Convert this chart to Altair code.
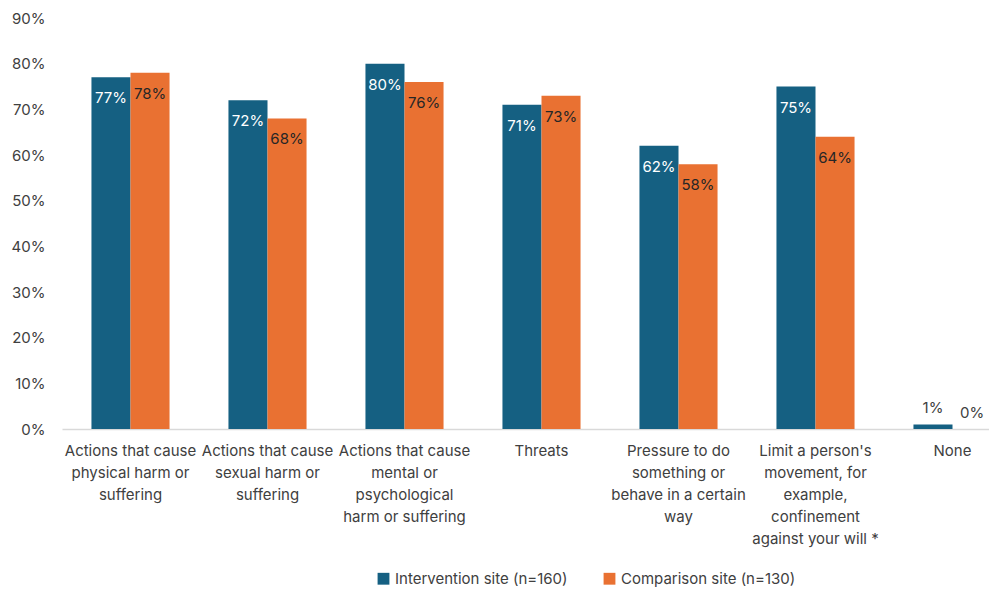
import altair as alt
import pandas as pd

categories = [
    "Actions that cause\nphysical harm or\nsuffering",
    "Actions that cause\nsexual harm or\nsuffering",
    "Actions that cause\nmental or\npsychological\nharm or suffering",
    "Threats",
    "Pressure to do\nsomething or\nbehave in a certain\nway",
    "Limit a person's\nmovement, for\nexample,\nconfinement\nagainst your will *",
    "None",
]
series = ["Intervention site (n=160)", "Comparison site (n=130)"]
intervention = [0.77, 0.72, 0.80, 0.71, 0.62, 0.75, 0.01]
comparison = [0.78, 0.68, 0.76, 0.73, 0.58, 0.64, 0.00]
y_ticks = [0, 0.1, 0.2, 0.3, 0.4, 0.5, 0.6, 0.7, 0.8, 0.9]
colors = ["#156082", "#E97132"]

rows = []
for i, c in enumerate(categories):
    rows.append({"category": c, "series": series[0], "value": intervention[i]})
    rows.append({"category": c, "series": series[1], "value": comparison[i]})
df = pd.DataFrame(rows)

FONT = "Inter"

x = alt.X(
    "category:N",
    sort=categories,
    title=None,
    scale=alt.Scale(paddingInner=0.43, paddingOuter=0.215, range=[0, 959]),
    axis=alt.Axis(
        labelAngle=0,
        labelExpr="split(datum.label, '\\n')",
        labelFontSize=15,
        labelLineHeight=22,
        labelColor="#404040",
        labelPadding=14,
        labelLimit=300,
        labelOverlap=False,
        labelBaseline="top",
        ticks=False,
        domainColor="#d9d9d9",
        domainWidth=1.5,
        labelFont=FONT,
    ),
)
xo = alt.XOffset("series:N", sort=series, scale=alt.Scale(paddingInner=0, paddingOuter=0))
y = alt.Y(
    "value:Q",
    title=None,
    scale=alt.Scale(domain=[0, 0.9]),
    axis=alt.Axis(
        values=y_ticks,
        format=".0%",
        grid=False,
        domain=False,
        ticks=False,
        labelFontSize=15,
        labelColor="#404040",
        labelPadding=17,
        labelFont=FONT,
    ),
)

bars = alt.Chart(df).mark_bar().encode(
    x=x,
    xOffset=xo,
    y=y,
    color=alt.Color(
        "series:N",
        sort=series,
        scale=alt.Scale(domain=series, range=colors),
        legend=alt.Legend(
            title=None,
            orient="none",
            direction="horizontal",
            legendX=314,
            legendY=553,
            symbolType="square",
            symbolSize=140,
            symbolStrokeWidth=0,
            labelFontSize=15,
            labelColor="#404040",
            labelFont=FONT,
            labelLimit=400,
            columnPadding=34,
        ),
    ),
)

inside = alt.Chart(df).transform_filter("datum.value >= 0.05").mark_text(
    baseline="middle", align="center", dy=21, fontSize=15, font=FONT
).encode(
    x=x,
    xOffset=xo,
    y=y,
    text=alt.Text("value:Q", format=".0%"),
    color=alt.condition(alt.datum.series == series[0], alt.value("white"), alt.value("#262626")),
)

outside = alt.Chart(df).transform_filter("datum.value < 0.05").mark_text(
    baseline="middle", align="center", dy=-16, fontSize=15, font=FONT, color="#404040"
).encode(
    x=x,
    xOffset=xo,
    y=alt.Y("value:Q", scale=alt.Scale(domain=[0, 0.9])),
    text=alt.Text("value:Q", format=".0%"),
)

chart = alt.layer(bars, inside, outside).properties(
    width=927,
    height=411,
    autosize=alt.AutoSizeParams(type="none"),
    padding={"left": 62, "top": 18, "right": 0, "bottom": 165},
).configure(background="white").configure_view(stroke=None)

chart.save("out.html", embed_options={"renderer": "svg", "actions": False})
